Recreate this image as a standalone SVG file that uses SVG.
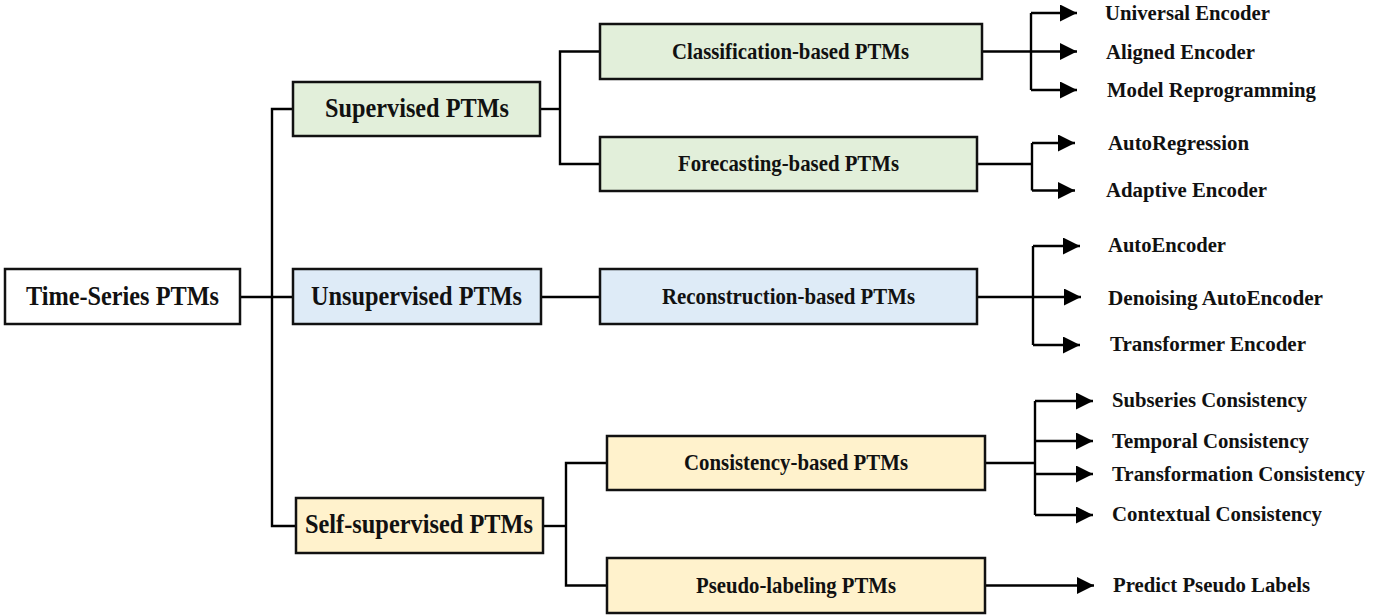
<svg xmlns="http://www.w3.org/2000/svg" width="1397" height="616" viewBox="0 0 1397 616">
  <defs>
    <marker id="arrow" markerUnits="userSpaceOnUse" markerWidth="18" markerHeight="18" refX="17" refY="8.5" orient="auto">
      <path d="M0,0 L17,8.5 L0,17 Z" fill="#000"/>
    </marker>
    <style>
      .box { stroke: #111; stroke-width: 2.5; }
      .root { fill: #ffffff; }
      .sup { fill: #e2efda; }
      .uns { fill: #deebf7; }
      .self { fill: #fff2cc; }
      .wire { fill: none; stroke: #000; stroke-width: 2.4; }
      .arr { fill: none; stroke: #000; stroke-width: 2.4; marker-end: url(#arrow); }
      text { font-family: "Liberation Serif", "Times New Roman", serif; font-weight: 700; fill: #111; }
      .big { font-size: 26.5px; text-anchor: middle; }
      .mid { font-size: 22.5px; text-anchor: middle; }
      .leaf { font-size: 20.5px; }
    </style>
  </defs>

  <!-- connectors -->
  <g id="connectors">
    <!-- root to the three families -->
    <path class="wire" d="M240,297 H293"/>
    <path class="wire" d="M293,109 H272 V526 H296"/>
    <!-- supervised branch -->
    <path class="wire" d="M540,109 H560"/>
    <path class="wire" d="M600,51.5 H560 V164 H600"/>
    <!-- unsupervised branch -->
    <path class="wire" d="M541,297 H600"/>
    <!-- self-supervised branch -->
    <path class="wire" d="M543,526 H566"/>
    <path class="wire" d="M607,463 H566 V585.5 H607"/>

    <!-- classification-based leaves -->
    <path class="wire" d="M982,51.5 H1031"/>
    <path class="wire" d="M1031,13 V90"/>
    <path class="arr" d="M1031,13 H1077"/>
    <path class="arr" d="M1031,51.5 H1077"/>
    <path class="arr" d="M1031,90 H1077"/>

    <!-- forecasting-based leaves -->
    <path class="wire" d="M977,164 H1032"/>
    <path class="wire" d="M1032,143 V190.5"/>
    <path class="arr" d="M1032,143 H1075"/>
    <path class="arr" d="M1032,190.5 H1075"/>

    <!-- reconstruction-based leaves -->
    <path class="wire" d="M977,297 H1033"/>
    <path class="wire" d="M1033,246 V345"/>
    <path class="arr" d="M1033,246 H1080"/>
    <path class="arr" d="M1033,297 H1081"/>
    <path class="arr" d="M1033,345 H1080"/>

    <!-- consistency-based leaves -->
    <path class="wire" d="M985,463 H1035"/>
    <path class="wire" d="M1035,401 V515"/>
    <path class="arr" d="M1035,401 H1093"/>
    <path class="arr" d="M1035,441 H1093"/>
    <path class="arr" d="M1035,474 H1093"/>
    <path class="arr" d="M1035,515 H1093"/>

    <!-- pseudo-labeling leaf -->
    <path class="arr" d="M985,585.5 H1094"/>
  </g>

  <!-- root -->
  <g id="node-root">
    <rect class="box root" x="5" y="269" width="235" height="55"/>
    <text class="big" x="122.5" y="305" textLength="193" lengthAdjust="spacingAndGlyphs">Time-Series PTMs</text>
  </g>

  <!-- first level -->
  <g id="node-supervised">
    <rect class="box sup" x="293" y="82" width="247" height="54"/>
    <text class="big" x="417" y="117" textLength="184" lengthAdjust="spacingAndGlyphs">Supervised PTMs</text>
  </g>
  <g id="node-unsupervised">
    <rect class="box uns" x="293" y="269" width="248" height="55"/>
    <text class="big" x="416.5" y="305" textLength="211" lengthAdjust="spacingAndGlyphs">Unsupervised PTMs</text>
  </g>
  <g id="node-selfsupervised">
    <rect class="box self" x="296" y="498" width="247" height="55"/>
    <text class="big" x="419" y="533" textLength="228" lengthAdjust="spacingAndGlyphs">Self-supervised PTMs</text>
  </g>

  <!-- second level -->
  <g id="node-classification">
    <rect class="box sup" x="600" y="24" width="382" height="55"/>
    <text class="mid" x="790.5" y="58.5" textLength="237" lengthAdjust="spacingAndGlyphs">Classification-based PTMs</text>
  </g>
  <g id="node-forecasting">
    <rect class="box sup" x="600" y="137" width="377" height="54"/>
    <text class="mid" x="788.5" y="171" textLength="221" lengthAdjust="spacingAndGlyphs">Forecasting-based PTMs</text>
  </g>
  <g id="node-reconstruction">
    <rect class="box uns" x="600" y="269" width="377" height="55"/>
    <text class="mid" x="788.5" y="304" textLength="253" lengthAdjust="spacingAndGlyphs">Reconstruction-based PTMs</text>
  </g>
  <g id="node-consistency">
    <rect class="box self" x="607" y="436" width="378" height="54"/>
    <text class="mid" x="796" y="470" textLength="224" lengthAdjust="spacingAndGlyphs">Consistency-based PTMs</text>
  </g>
  <g id="node-pseudolabeling">
    <rect class="box self" x="607" y="558" width="378" height="55"/>
    <text class="mid" x="796" y="593" textLength="200" lengthAdjust="spacingAndGlyphs">Pseudo-labeling PTMs</text>
  </g>

  <!-- leaf labels -->
  <g id="leaf-universal"><text class="leaf" x="1105" y="19.5" textLength="165" lengthAdjust="spacingAndGlyphs">Universal Encoder</text></g>
  <g id="leaf-aligned"><text class="leaf" x="1106" y="58.5" textLength="149" lengthAdjust="spacingAndGlyphs">Aligned Encoder</text></g>
  <g id="leaf-reprogramming"><text class="leaf" x="1107" y="96.5" textLength="209" lengthAdjust="spacingAndGlyphs">Model Reprogramming</text></g>
  <g id="leaf-autoregression"><text class="leaf" x="1108" y="149.5" textLength="141" lengthAdjust="spacingAndGlyphs">AutoRegression</text></g>
  <g id="leaf-adaptive"><text class="leaf" x="1106" y="197" textLength="161" lengthAdjust="spacingAndGlyphs">Adaptive Encoder</text></g>
  <g id="leaf-autoencoder"><text class="leaf" x="1108" y="252" textLength="118" lengthAdjust="spacingAndGlyphs">AutoEncoder</text></g>
  <g id="leaf-denoising"><text class="leaf" x="1108" y="304.5" textLength="215" lengthAdjust="spacingAndGlyphs">Denoising AutoEncoder</text></g>
  <g id="leaf-transformer"><text class="leaf" x="1110" y="351" textLength="196" lengthAdjust="spacingAndGlyphs">Transformer Encoder</text></g>
  <g id="leaf-subseries"><text class="leaf" x="1112" y="407" textLength="195" lengthAdjust="spacingAndGlyphs">Subseries Consistency</text></g>
  <g id="leaf-temporal"><text class="leaf" x="1112" y="448" textLength="197" lengthAdjust="spacingAndGlyphs">Temporal Consistency</text></g>
  <g id="leaf-transformation"><text class="leaf" x="1112" y="480.5" textLength="253" lengthAdjust="spacingAndGlyphs">Transformation Consistency</text></g>
  <g id="leaf-contextual"><text class="leaf" x="1112" y="521" textLength="210" lengthAdjust="spacingAndGlyphs">Contextual Consistency</text></g>
  <g id="leaf-pseudolabels"><text class="leaf" x="1113" y="592" textLength="197" lengthAdjust="spacingAndGlyphs">Predict Pseudo Labels</text></g>
</svg>
